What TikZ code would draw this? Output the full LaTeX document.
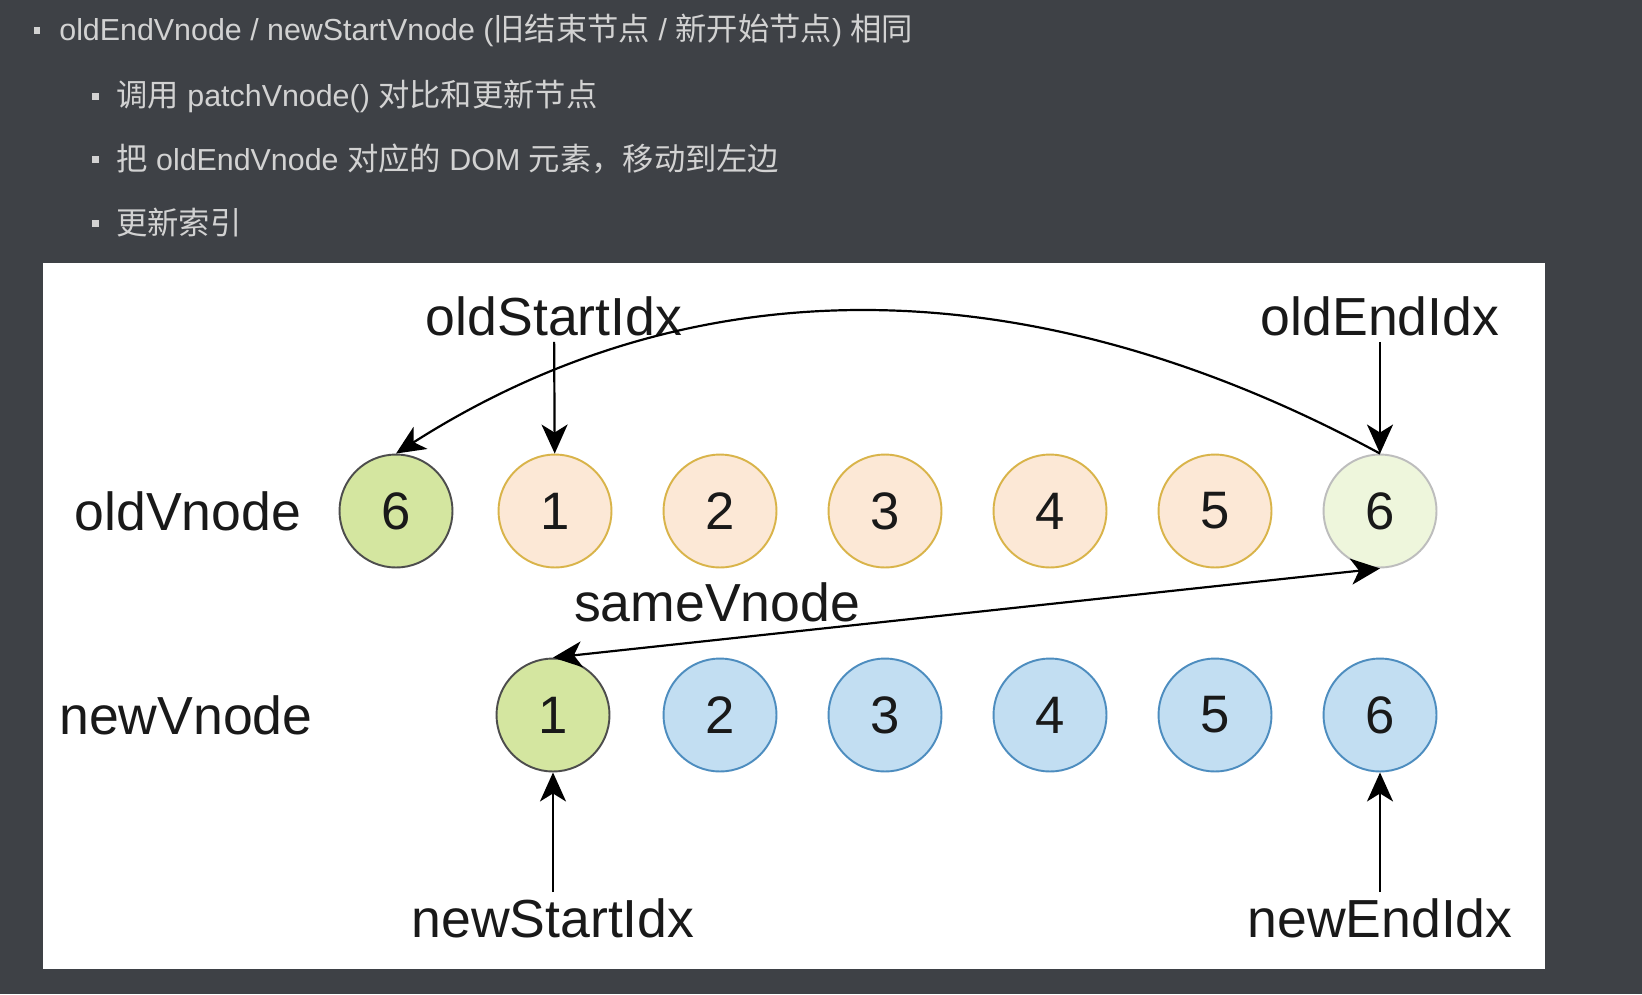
\documentclass[tikz,border=0pt]{standalone}
\usepackage{fontspec}
\setmainfont{Liberation Sans}
\newfontfamily\cjk[Scale=1.03]{Noto Sans CJK SC}
\newcommand{\zhtext}[1]{{\cjk #1}}
\usetikzlibrary{arrows.meta}
\definecolor{bgdark}{HTML}{3E4146}
\definecolor{itemgray}{HTML}{D2D2D2}
\definecolor{oldfill}{HTML}{FCE8D6}
\definecolor{oldline}{HTML}{D9B44A}
\definecolor{greenfill}{HTML}{D4E6A0}
\definecolor{greenline}{HTML}{4D4D4D}
\definecolor{palefill}{HTML}{EEF6DC}
\definecolor{paleline}{HTML}{BDBDBD}
\definecolor{newfill}{HTML}{C2DEF2}
\definecolor{newline}{HTML}{4D8DBF}

\begin{document}
\begin{tikzpicture}[x=0.02cm, y=-0.02cm,
    vnode/.style={draw, circle, minimum size=2.26cm, inner sep=0pt, line width=1.1pt, text=black!90, font=\fontsize{30}{36}\selectfont},
    oldnode/.style={vnode, draw=oldline, fill=oldfill},
    newnode/.style={vnode, draw=newline, fill=newfill},
    lbl/.style={text=black!90, font=\fontsize{30.5}{36}\selectfont},
    ptr/.style={-{Stealth[length=0.58cm, width=0.52cm, inset=0.16cm]}, line width=1.25pt},
    dblptr/.style={{Stealth[length=0.58cm, width=0.52cm, inset=0.16cm]}-{Stealth[length=0.58cm, width=0.52cm, inset=0.16cm]}, line width=1.25pt},
    dot/.style={fill=itemgray, minimum size=0.14cm, inner sep=0pt},
    item/.style={anchor=west, inner sep=0pt, text=itemgray, font=\fontsize{17.3}{20}\selectfont}]

    % 背景
    \fill[bgdark] (0,0) rectangle (1642,994);
    \fill[white] (43,263) rectangle (1545,969);

    % 说明文字
    \node[dot] (b1) at (37,30) {};
    \node[item] (t1) at (59,30) {oldEndVnode / newStartVnode (\zhtext{旧结束节点} / \zhtext{新开始节点}) \zhtext{相同}};
    \node[dot] (b2) at (95,96) {};
    \node[item] (t2) at (116,96) {\zhtext{调用} patchVnode() \zhtext{对比和更新节点}};
    \node[dot] (b3) at (95,159) {};
    \node[item] (t3) at (116,159) {\zhtext{把} oldEndVnode \zhtext{对应的} DOM \zhtext{元素，移动到左边}};
    \node[dot] (b4) at (95,223) {};
    \node[item] (t4) at (116,223) {\zhtext{更新索引}};

    % 行标签
    \node[lbl] (oldlbl) at (188,511) {oldVnode};
    \node[lbl] (newlbl) at (186,715) {newVnode};

    % 旧节点
    \node[vnode, draw=greenline, fill=greenfill] (old0) at (396,511) {6};
    \node[oldnode] (old1) at (555,511) {1};
    \node[oldnode] (old2) at (720,511) {2};
    \node[oldnode] (old3) at (885,511) {3};
    \node[oldnode] (old4) at (1050,511) {4};
    \node[oldnode] (old5) at (1215,511) {5};
    \node[vnode, draw=paleline, fill=palefill] (old6) at (1380,511) {6};

    % 新节点
    \node[vnode, draw=greenline, fill=greenfill] (new1) at (553,715) {1};
    \node[newnode] (new2) at (720,715) {2};
    \node[newnode] (new3) at (885,715) {3};
    \node[newnode] (new4) at (1050,715) {4};
    \node[newnode] (new5) at (1215,715) {5};
    \node[newnode] (new6) at (1380,715) {6};

    % 索引
    \node[lbl] (oldStart) at (554,316) {oldStartIdx};
    \node[lbl] (oldEnd) at (1380,316) {oldEndIdx};
    \node[lbl] (newStart) at (553,918) {newStartIdx};
    \node[lbl] (newEnd) at (1380,918) {newEndIdx};
    \node[lbl] (same) at (717,602) {sameVnode};

    % 指针
    \draw[ptr] (oldStart) -- (old1);
    \draw[ptr] (oldEnd) -- (old6);
    \draw[ptr] (newStart) -- (new1);
    \draw[ptr] (newEnd) -- (new6);
    \draw[ptr] (old6.north) .. controls (1030,264) and (693,264) .. (old0.north);
    \draw[dblptr] (new1.north) -- (old6.south);
\end{tikzpicture}
\end{document}
